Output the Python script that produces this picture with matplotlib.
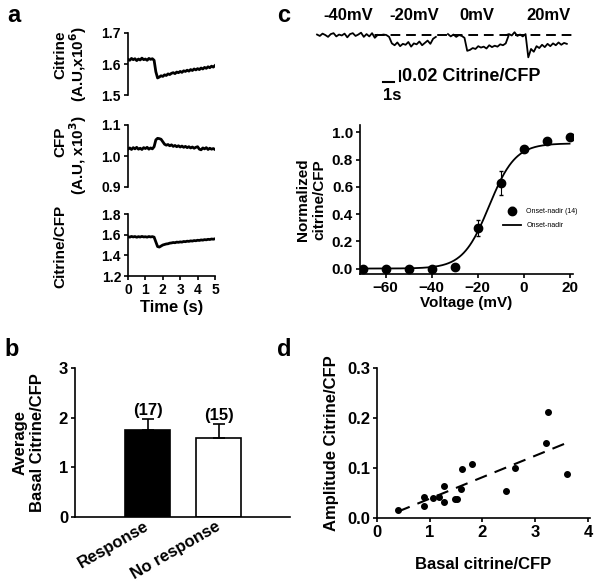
import numpy as np
import matplotlib.pyplot as plt

plt.rcParams['font.family'] = ['Liberation Sans', 'DejaVu Sans']
plt.rcParams['font.weight'] = 'bold'
plt.rcParams['axes.labelweight'] = 'bold'
plt.rcParams['axes.linewidth'] = 1.2

W, H = 600, 581

# ---- panel a: single cell traces (sampled every 0.1 s) ----
t_a = np.arange(51) * 0.1
citrine = [1.615, 1.612, 1.618, 1.614, 1.617, 1.611, 1.616, 1.613, 1.619, 1.614,
           1.616, 1.612, 1.618, 1.615, 1.617, 1.612, 1.575, 1.555, 1.558, 1.562,
           1.560, 1.565, 1.563, 1.568, 1.566, 1.570, 1.572, 1.569, 1.574, 1.572,
           1.576, 1.573, 1.578, 1.576, 1.580, 1.577, 1.582, 1.579, 1.584, 1.581,
           1.585, 1.582, 1.587, 1.584, 1.589, 1.586, 1.591, 1.588, 1.593, 1.590, 1.595]
cfp = [1.022, 1.026, 1.021, 1.027, 1.023, 1.028, 1.022, 1.025, 1.021, 1.027,
       1.024, 1.028, 1.022, 1.026, 1.023, 1.030, 1.052, 1.057, 1.056, 1.054,
       1.046, 1.038, 1.035, 1.037, 1.033, 1.036, 1.031, 1.034, 1.030, 1.033,
       1.029, 1.032, 1.028, 1.031, 1.027, 1.030, 1.026, 1.029, 1.025, 1.028,
       1.030, 1.022, 1.020, 1.026, 1.023, 1.027, 1.021, 1.025, 1.022, 1.024, 1.021]
ratio = [1.580, 1.576, 1.583, 1.578, 1.582, 1.575, 1.581, 1.577, 1.583, 1.578,
         1.580, 1.576, 1.582, 1.578, 1.581, 1.576, 1.530, 1.485, 1.480, 1.490,
         1.500, 1.505, 1.510, 1.512, 1.518, 1.520, 1.524, 1.522, 1.528, 1.526,
         1.530, 1.528, 1.534, 1.532, 1.537, 1.535, 1.540, 1.538, 1.543, 1.541,
         1.546, 1.544, 1.549, 1.547, 1.552, 1.550, 1.555, 1.553, 1.558, 1.556, 1.560]

# ---- panel c: traces at four voltages (delta citrine/CFP, every 0.25 s) ----
volt_labels = ['-40mV', '-20mV', '0mV', '20mV']
trace_start = [0.0, 5.3, 11.9, 17.2]
dt_c = 0.25
trace_m40 = [0.001, -0.002, 0.003, 0.000, -0.004, 0.002, 0.004, -0.003, 0.001, -0.001, 0.003, -0.005,
             0.002, 0.004, -0.002, 0.001, 0.005, -0.004, 0.002, -0.003, 0.004, -0.006, 0.000]
trace_m20 = [0.000, 0.000, 0.000, 0.001, 0.000, -0.004, -0.018, -0.022, -0.016, -0.024, -0.019, -0.021,
             -0.015, -0.025, -0.018, -0.020, -0.014, -0.022, -0.017, -0.012, -0.019, -0.008, -0.004]
trace_0 = [0.002, -0.003, 0.001, -0.004, 0.000, -0.002, -0.006, -0.034, -0.032, -0.028, -0.030, -0.024,
           -0.027, -0.025, -0.029, -0.022, -0.026, -0.023, -0.025, -0.020, -0.022, -0.018, -0.002]
trace_20 = [0.000, 0.002, -0.001, 0.006, -0.002, 0.001, -0.003, 0.002, -0.048, -0.030, -0.036, -0.024,
            -0.028, -0.021, -0.026, -0.019, -0.024, -0.018, -0.022, -0.016, -0.021, -0.017, -0.019]
traces_c = [trace_m40, trace_m20, trace_0, trace_20]

# ---- panel c: voltage dependence ----
voltage = [-70, -60, -50, -40, -30, -20, -10, 0, 10, 20]
norm_ratio = [0.0, 0.0, 0.0, 0.0, 0.01, 0.30, 0.63, 0.88, 0.94, 0.97]
norm_err = [0, 0, 0, 0, 0, 0.06, 0.09, 0, 0, 0]
fit_vmax, fit_vhalf, fit_k = 0.92, -15.0, 5.7

# ---- panel b ----
groups = ['Response', 'No response']
basal_mean = [1.75, 1.60]
basal_err = [0.22, 0.27]
group_n = ['(17)', '(15)']

# ---- panel d ----
basal = [0.40, 0.89, 0.89, 1.06, 1.18, 1.27, 1.27, 1.47, 1.52, 1.59, 1.62, 1.81,
         2.44, 2.61, 3.20, 3.24, 3.60]
amplitude = [0.017, 0.043, 0.025, 0.041, 0.043, 0.064, 0.032, 0.039, 0.038, 0.059, 0.099, 0.109,
             0.055, 0.101, 0.151, 0.213, 0.089]


def box(l, t, r, b):
    return [l / W, 1 - b / H, (r - l) / W, (b - t) / H]


def style(ax, fs=10):
    for s in ['top', 'right']:
        ax.spines[s].set_visible(False)
    ax.tick_params(direction='out', length=3, width=1.2, labelsize=fs, pad=2)


fig = plt.figure(figsize=(6, 5.81), dpi=100)

# panel a
a1 = fig.add_axes(box(128, 33, 215, 95))
a1.plot(t_a, citrine, color='k', lw=2)
a1.set_xlim(0, 5)
a1.set_ylim(1.5, 1.7)
a1.set_yticks([1.5, 1.6, 1.7])
style(a1)
a1.spines['bottom'].set_visible(False)
a1.set_xticks([])

a2 = fig.add_axes(box(128, 125, 215, 187))
a2.plot(t_a, cfp, color='k', lw=2)
a2.set_xlim(0, 5)
a2.set_ylim(0.9, 1.1)
a2.set_yticks([0.9, 1.0, 1.1])
style(a2)
a2.spines['bottom'].set_visible(False)
a2.set_xticks([])

a3 = fig.add_axes(box(128, 214, 215, 276))
a3.plot(t_a, ratio, color='k', lw=2)
a3.set_xlim(0, 5)
a3.set_ylim(1.2, 1.8)
a3.set_yticks([1.2, 1.4, 1.6, 1.8])
a3.set_xticks(range(6))
style(a3)
a3.set_xlabel('Time (s)', fontsize=12, labelpad=2)

fig.text(60 / W, 1 - 55 / H, 'Citrine', rotation=90, ha='center', va='center', fontsize=11)
fig.text(78 / W, 1 - 64 / H, '(A.U,x10$^{\\mathbf{6}}$)', rotation=90, ha='center', va='center', fontsize=11)
fig.text(60 / W, 1 - 142 / H, 'CFP', rotation=90, ha='center', va='center', fontsize=11)
fig.text(78 / W, 1 - 155 / H, '(A.U, x10$^{\\mathbf{3}}$)', rotation=90, ha='center', va='center', fontsize=11)
fig.text(60 / W, 1 - 246 / H, 'Citrine/CFP', rotation=90, ha='center', va='center', fontsize=11)

# panel c traces
ct = fig.add_axes(box(310, 0, 580, 105))
ct.set_xlim(-0.64, 23.9)
ct.set_ylim(-0.1505, 0.0753)
ct.axis('off')
for lab, x0, tr in zip(volt_labels, trace_start, traces_c):
    tt = x0 + np.arange(len(tr)) * dt_c
    ct.plot(tt, tr, color='k', lw=1.3)
ct.plot([trace_start[1], 23.6], [0, 0], color='k', lw=1.4, dashes=(5, 3))
lab_x = [2.8, 8.8, 14.5, 21.0]
for lab, lx in zip(volt_labels, lab_x):
    ct.text(lx, 0.043, lab, ha='center', va='center', fontsize=12)
# scale bars: 1 s and 0.02 citrine/CFP
ct.plot([6.0, 7.0], [-0.1, -0.1], color='k', lw=1.5)
ct.plot([7.5, 7.5], [-0.078, -0.098], color='k', lw=1.5)
ct.text(7.75, -0.089, '0.02 Citrine/CFP', ha='left', va='center', fontsize=13)
ct.text(6.0, -0.129, '1s', ha='left', va='center', fontsize=12)

# panel c curve
c2 = fig.add_axes(box(360, 125, 573, 274))
vv = np.linspace(-70, 20, 300)
c2.plot(vv, fit_vmax / (1 + np.exp((fit_vhalf - vv) / fit_k)), color='k', lw=1.3,
        label='Onset-nadir')
c2.errorbar(voltage, norm_ratio, yerr=norm_err, fmt='o', color='k', ms=6, elinewidth=0.8,
            capsize=1.5, label='Onset-nadir (14)')
c2.set_xlim(-71.2, 21.5)
c2.set_ylim(-0.04, 1.055)
c2.set_xticks([-60, -40, -20, 0, 20])
c2.set_yticks([0.0, 0.2, 0.4, 0.6, 0.8, 1.0])
c2.set_yticklabels(['0.0', '0.2', '0.4', '0.6', '0.8', '1.0'])
style(c2, fs=11)
c2.set_xlabel('Voltage (mV)', fontsize=11, labelpad=1)
c2.set_ylabel('Normalized\ncitrine/CFP', fontsize=11, labelpad=4)
h, l = c2.get_legend_handles_labels()
c2.legend(h[::-1], l[::-1], loc='center left', bbox_to_anchor=(0.64, 0.37), frameon=False,
          prop={'size': 5, 'weight': 'normal'}, handlelength=2.6, labelspacing=1.0)

# panel b
b = fig.add_axes(box(75, 368, 290, 517))
xb = np.arange(len(groups))
b.bar(xb, basal_mean, width=0.634, color=['k', 'w'], edgecolor='k', lw=1.2,
      yerr=[[0, 0], basal_err], error_kw=dict(ecolor='k', elinewidth=1.2, capsize=4, capthick=1.2))
for xi, m, e, n in zip(xb, basal_mean, basal_err, group_n):
    b.text(xi, m + e + 0.03, n, ha='center', va='bottom', fontsize=12)
b.set_xlim(-1.02, 2.0)
b.set_ylim(0, 3)
b.set_yticks([0, 1, 2, 3])
b.set_xticks(xb)
b.set_xticklabels(groups, rotation=30, ha='right', va='center', rotation_mode='anchor', fontsize=8.5)
style(b, fs=12)
b.tick_params(axis='x', length=0, pad=6)
b.set_ylabel('Average\nBasal Citrine/CFP', fontsize=12, labelpad=10)

# panel d
d = fig.add_axes(box(377, 368, 590, 518))
d.plot(basal, amplitude, 'o', color='k', ms=4)
p = np.polyfit(basal, amplitude, 1)
xl = np.array([min(basal), max(basal)])
d.plot(xl, np.polyval(p, xl), color='k', lw=1.5, dashes=(6, 4))
d.set_xlim(0, 4.04)
d.set_ylim(0, 0.3)
d.set_xticks([0, 1, 2, 3, 4])
d.set_yticks([0.0, 0.1, 0.2, 0.3])
d.set_yticklabels(['0.0', '0.1', '0.2', '0.3'])
style(d, fs=12)
d.set_xlabel('Basal citrine/CFP', fontsize=12, labelpad=12)
d.set_ylabel('Amplitude Citrine/CFP', fontsize=12, labelpad=6)

# panel letters
for letter, x, y in [('a', 14, 15), ('c', 284, 15), ('b', 12, 349), ('d', 284, 349)]:
    fig.text(x / W, 1 - y / H, letter, ha='center', va='center', fontsize=17)

fig.savefig('out.png', dpi=100)
